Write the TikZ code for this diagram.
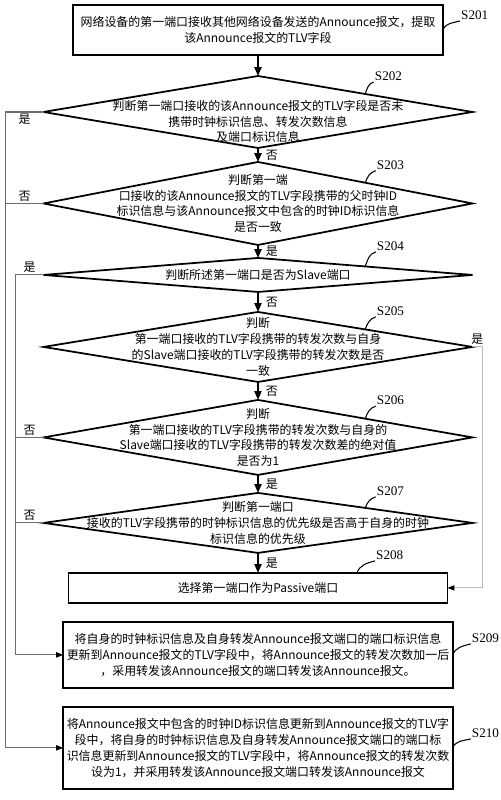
\documentclass[tikz,border=0pt]{standalone}
\usepackage{fontspec}
\setmainfont{Noto Sans CJK SC}
\newfontfamily\stepfont{Liberation Serif}
\usepackage{tikz}
\usetikzlibrary{arrows.meta, positioning, shapes.geometric}
\definecolor{sidegray}{RGB}{110, 110, 110}
\definecolor{palegray}{RGB}{185, 185, 185}

\begin{document}
\begin{tikzpicture}[x=0.02cm, y=-0.02cm,
    box/.style={draw, line width=1pt, minimum width=7.58cm, align=center,
                inner sep=2pt, outer sep=0pt, font=\fontsize{6.8pt}{9pt}\selectfont},
    dia/.style={draw, diamond, line width=1pt, minimum width=8.58cm,
                inner sep=0pt, outer sep=0pt},
    txt/.style={align=center, inner sep=0pt, font=\fontsize{6.8pt}{9pt}\selectfont},
    lbl/.style={inner sep=0.5pt, font=\stepfont\fontsize{7.5pt}{8pt}\selectfont},
    yn/.style={inner sep=1pt, font=\fontsize{6.8pt}{8pt}\selectfont},
    lead/.style={line width=0.6pt},
    a/.style={-{Triangle[length=5pt, width=4pt]}, line width=1pt},
    side/.style={-{Triangle[length=4pt, width=3pt, color=black]}, line width=0.6pt, draw=sidegray},
    sideline/.style={line width=0.6pt, draw=sidegray}
  ]
  \useasboundingbox (0,0) rectangle (500,800);

  % steps
  \node[box, minimum width=7.4cm, minimum height=1cm, font=\fontsize{6.8pt}{9.5pt}\selectfont] (b201) at (258,30)
    {网络设备的第一端口接收其他网络设备发送的Announce报文，提取\\该Announce报文的TLV字段};
  \node[dia, minimum height=1.44cm] (d202) [below=0.42cm of b201] {};
  \node[txt, yshift=-0.19cm] (t202) at (d202.center)
    {判断第一端口接收的该Announce报文的TLV字段是否未\\携带时钟标识信息、转发次数信息\\及端口标识信息};
  \node[dia, minimum height=1.66cm] (d203) [below=0.28cm of d202] {};
  \node[txt] (t203) at (d203.center)
    {判断第一端\\口接收的该Announce报文的TLV字段携带的父时钟ID\\标识信息与该Announce报文中包含的时钟ID标识信息\\是否一致};
  \node[dia, minimum height=0.68cm] (d204) [below=0.26cm of d203] {};
  \node[txt] (t204) at (d204.center) {判断所述第一端口是否为Slave端口};
  \node[dia, minimum height=1.4cm] (d205) [below=0.4cm of d204] {};
  \node[txt] (t205) at (d205.center)
    {判断\\第一端口接收的TLV字段携带的转发次数与自身\\的Slave端口接收的TLV字段携带的转发次数是否\\一致};
  \node[dia, minimum height=1.5cm] (d206) [below=0.36cm of d205] {};
  \node[txt] (t206) at (d206.center)
    {判断\\第一端口接收的TLV字段携带的转发次数与自身的\\Slave端口接收的TLV字段携带的转发次数差的绝对值\\是否为1};
  \node[dia, minimum height=1.2cm] (d207) [below=0.36cm of d206] {};
  \node[txt] (t207) at (d207.center)
    {判断第一端口\\接收的TLV字段携带的时钟标识信息的优先级是否高于自身的时钟\\标识信息的优先级};
  \node[box, minimum height=0.6cm] (b208) [below=0.4cm of d207] {选择第一端口作为Passive端口};
  \node[box, minimum height=1.32cm] (b209) [below=0.38cm of b208]
    {将自身的时钟标识信息及自身转发Announce报文端口的端口标识信息\\更新到Announce报文的TLV字段中，将Announce报文的转发次数加一后\\，采用转发该Announce报文的端口转发该Announce报文。};
  \node[box, minimum height=1.64cm] (b210) [below=0.38cm of b209]
    {将Announce报文中包含的时钟ID标识信息更新到Announce报文的TLV字\\段中，将自身的时钟标识信息及自身转发Announce报文端口的端口标\\识信息更新到Announce报文的TLV字段中，将Announce报文的转发次数\\设为1，并采用转发该Announce报文端口转发该Announce报文};

  % step numbers
  \node[lbl] (s201) [above right=0.18cm and 0.34cm of b201.east] {S201};
  \node[lbl] (s202) [above right=0.24cm and 0.17cm of d202.north east] {S202};
  \node[lbl] (s203) [above right=0.24cm and 0.21cm of d203.north east] {S203};
  \node[lbl] (s204) [above right=0.29cm and 0.21cm of d204.north east] {S204};
  \node[lbl] (s205) [above right=0.25cm and 0.21cm of d205.north east] {S205};
  \node[lbl] (s206) [above right=0.25cm and 0.21cm of d206.north east] {S206};
  \node[lbl] (s207) [above right=0.22cm and 0.21cm of d207.north east] {S207};
  \coordinate (p208) at ([xshift=1.98cm]b208.north);
  \node[lbl] (s208) [above right=0.24cm and 0.36cm of p208] {S208};
  \node[lbl] (s209) [above right=0.22cm and 0.36cm of b209.east] {S209};
  \node[lbl] (s210) [above right=0.18cm and 0.36cm of b210.east] {S210};
  \draw[lead] (b201.east) to[out=70, in=195] (s201.south west);
  \foreach \n in {202,203,204,205,206,207}
    \draw[lead] (d\n.north east) to[out=70, in=195] (s\n.south west);
  \draw[lead] (p208) to[out=70, in=195] (s208.south west);
  \draw[lead] (b209.east) to[out=70, in=195] (s209.south west);
  \draw[lead] (b210.east) to[out=70, in=195] (s210.south west);

  % main flow
  \draw[a] (b201) -- (d202);
  \draw[a] (d202) -- node[yn, right=3pt] {否} (d203);
  \draw[a] (d203) -- node[yn, right=3pt] {是} (d204);
  \draw[a] (d204) -- node[yn, right=3pt] {否} (d205);
  \draw[a] (d205) -- node[yn, right=3pt] {否} (d206);
  \draw[a] (d206) -- node[yn, right=3pt] {是} (d207);
  \draw[a] (d207) -- node[yn, right=3pt] {是} (b208);

  % side branches
  \draw[side] (d202.west) -- node[yn, below] {是} ++(-38,0) coordinate (c5) |- (b210.west);
  \draw[sideline] (d203.west) -- node[yn, above] {否} (d203.west -| c5);
  \draw[side] (d204.west) -- node[yn, above] {是} ++(-28,0) coordinate (c15) |- (b209.west);
  \draw[sideline] (d206.west) -- node[yn, above] {否} (d206.west -| c15);
  \draw[sideline] (d207.west) -- node[yn, above] {否} (d207.west -| c15);
  \draw[side, draw=palegray] (d205.east) -- node[yn, above] {是} ++(10,0) |- (b208.east);
\end{tikzpicture}
\end{document}
